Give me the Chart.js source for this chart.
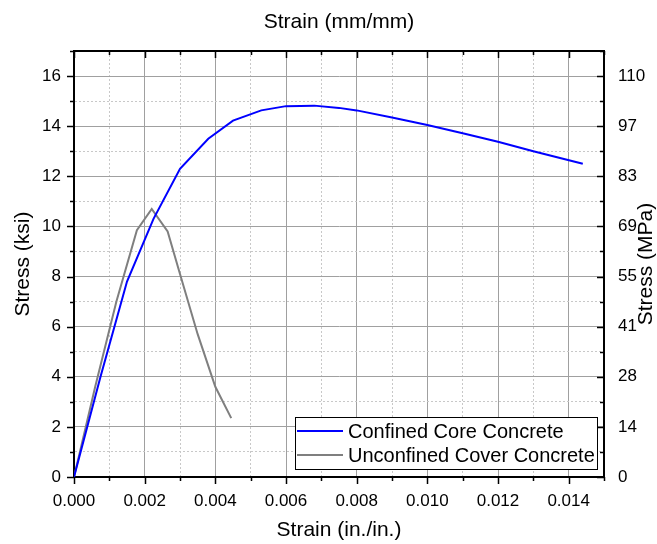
<!DOCTYPE html>
<html>
<head>
<meta charset="utf-8">
<script src="https://cdn.jsdelivr.net/npm/chart.js@4/dist/chart.umd.min.js"></script>
<style>
  html, body { margin: 0; padding: 0; background: #fff; }
  #wrap { width: 657px; height: 544px; }
</style>
</head>
<body>
<div id="wrap"><canvas id="cStress" width="657" height="544"></canvas></div>
<script>
// confined core concrete (ksi vs in./in.)
const strainConfined = [0, 0.00075, 0.0015, 0.00225, 0.003, 0.0038, 0.0045, 0.0053, 0.006, 0.0068, 0.0075, 0.008, 0.009, 0.010, 0.011, 0.012, 0.013, 0.0144];
const stressConfined = [0, 4.0, 7.8, 10.3, 12.3, 13.5, 14.22, 14.63, 14.8, 14.82, 14.73, 14.63, 14.35, 14.05, 13.72, 13.38, 13.0, 12.5];
// unconfined cover concrete
const strainCover = [0, 0.0006, 0.0012, 0.00178, 0.0022, 0.00265, 0.003, 0.0035, 0.004, 0.00445];
const stressCover = [0, 3.6, 7.0, 9.85, 10.7, 9.8, 8.1, 5.7, 3.6, 2.35];

const seriesNames = ['Confined Core Concrete', 'Unconfined Cover Concrete'];
const yTicksMPa = { 0: '0', 2: '14', 4: '28', 6: '41', 8: '55', 10: '69', 12: '83', 14: '97', 16: '110' };

const FONT = "'Liberation Sans', Arial, sans-serif";
const KSI_TO_MPA = 6.895;

const pts = (xs, ys) => xs.map((x, i) => ({ x: x, y: ys[i] }));
const xMajor = v => Math.round(v * 1000) % 2 === 0;
const yMajor = v => Math.round(v) % 2 === 0;

const gridColor = isMaj => ctx => (ctx.tick && isMaj(ctx.tick.value)) ? '#a0a0a0' : '#c8c8c8';
const gridDash = isMaj => ctx => (ctx.tick && !isMaj(ctx.tick.value)) ? [2, 2] : [];

// tick marks: left/bottom outward, top/right inward, minor ones shorter
const tickMarks = {
  id: 'tickMarks',
  afterDraw(chart) {
    const { ctx, scales } = chart;
    const a = chart.chartArea;
    ctx.save();
    ctx.strokeStyle = '#000';
    ctx.lineWidth = 1.5;
    ctx.beginPath();
    scales.x.ticks.forEach(t => {
      const px = Math.round(scales.x.getPixelForValue(t.value)) + 0.5;
      const len = xMajor(t.value) ? 7 : 4;
      ctx.moveTo(px, a.bottom); ctx.lineTo(px, a.bottom + len);
      ctx.moveTo(px, a.top); ctx.lineTo(px, a.top + len);
    });
    scales.y.ticks.forEach(t => {
      const py = Math.round(scales.y.getPixelForValue(t.value)) + 0.5;
      const len = yMajor(t.value) ? 7 : 4;
      ctx.moveTo(a.left, py); ctx.lineTo(a.left - len, py);
      ctx.moveTo(a.right, py); ctx.lineTo(a.right - len, py);
    });
    ctx.stroke();

    // right axis title, reading bottom to top
    ctx.fillStyle = '#000';
    ctx.font = '21px ' + FONT;
    ctx.textAlign = 'center';
    ctx.textBaseline = 'middle';
    ctx.translate(646, (a.top + a.bottom) / 2);
    ctx.rotate(-Math.PI / 2);
    ctx.fillText('Stress (MPa)', 0, 0);
    ctx.restore();
  }
};

// boxed legend inside the plot, bottom right
const boxLegend = {
  id: 'boxLegend',
  afterDraw(chart) {
    const { ctx } = chart;
    const a = chart.chartArea;
    const w = 302, h = 52;
    const x0 = a.right - 7 - w, y0 = a.bottom - 8 - h;
    ctx.save();
    ctx.fillStyle = '#fff';
    ctx.fillRect(x0, y0, w, h);
    ctx.strokeStyle = '#000';
    ctx.lineWidth = 1;
    ctx.strokeRect(x0 + 0.5, y0 + 0.5, w, h);
    ctx.font = '20px ' + FONT;
    ctx.textBaseline = 'middle';
    chart.data.datasets.forEach((ds, i) => {
      const cy = y0 + 14 + i * 24;
      ctx.strokeStyle = ds.borderColor;
      ctx.lineWidth = 2;
      ctx.beginPath();
      ctx.moveTo(x0 + 2, cy); ctx.lineTo(x0 + 48, cy);
      ctx.stroke();
      ctx.fillStyle = '#000';
      ctx.fillText(ds.label, x0 + 53, cy + 1);
    });
    ctx.restore();
  }
};

new Chart(document.getElementById('cStress'), {
  type: 'line',
  data: {
    datasets: [
      { label: seriesNames[0], data: pts(strainConfined, stressConfined), borderColor: '#0000ff', borderWidth: 2, pointRadius: 0, tension: 0, xAxisID: 'x', yAxisID: 'y' },
      { label: seriesNames[1], data: pts(strainCover, stressCover), borderColor: '#7f7f7f', borderWidth: 2, pointRadius: 0, tension: 0, xAxisID: 'x', yAxisID: 'y' },
    ],
  },
  options: {
    responsive: false,
    animation: false,
    layout: { padding: 0 },
    plugins: { legend: { display: false }, tooltip: { enabled: false } },
    scales: {
      x: {
        type: 'linear', position: 'bottom', min: 0, max: 0.015,
        afterFit: s => { s.height = 67; },
        grid: { color: gridColor(xMajor), lineWidth: 1, drawTicks: false },
        border: { color: '#000', width: 2, dash: gridDash(xMajor) },
        ticks: { stepSize: 0.001, autoSkip: false, maxRotation: 0, padding: 14, color: '#000', font: { family: FONT, size: 17 },
                 callback: v => xMajor(v) ? v.toFixed(3) : '' },
        title: { display: true, text: 'Strain (in./in.)', color: '#000', font: { family: FONT, size: 21 }, padding: { bottom: 1 } },
      },
      x2: {
        type: 'linear', position: 'top', min: 0, max: 0.015,
        afterFit: s => { s.height = 51; },
        grid: { display: false, drawTicks: false },
        border: { color: '#000', width: 2 },
        ticks: { display: false, stepSize: 0.001 },
        title: { display: true, text: 'Strain (mm/mm)', color: '#000', font: { family: FONT, size: 21 }, padding: { top: 10 } },
      },
      y: {
        type: 'linear', position: 'left', min: 0, max: 17,
        afterFit: s => { s.width = 74; },
        grid: { color: gridColor(yMajor), lineWidth: 1, drawTicks: false },
        border: { color: '#000', width: 2, dash: gridDash(yMajor) },
        ticks: { stepSize: 1, autoSkip: false, padding: 13, color: '#000', font: { family: FONT, size: 17 },
                 callback: v => yMajor(v) ? String(v) : '' },
        title: { display: true, text: 'Stress (ksi)', color: '#000', font: { family: FONT, size: 21 }, padding: { top: 11 } },
      },
      y2: {
        type: 'linear', position: 'right', min: 0, max: 17,
        afterFit: s => { s.width = 53; },
        grid: { display: false, drawTicks: false },
        border: { color: '#000', width: 2 },
        ticks: { stepSize: 1, autoSkip: false, padding: 14, color: '#000', font: { family: FONT, size: 17 },
                 callback: v => yTicksMPa[Math.round(v)] !== undefined && Math.abs(v - Math.round(v)) < 1e-6 ? yTicksMPa[Math.round(v)] : '' },
        title: { display: false },
      },
    },
  },
  plugins: [tickMarks, boxLegend],
});
</script>
</body>
</html>
